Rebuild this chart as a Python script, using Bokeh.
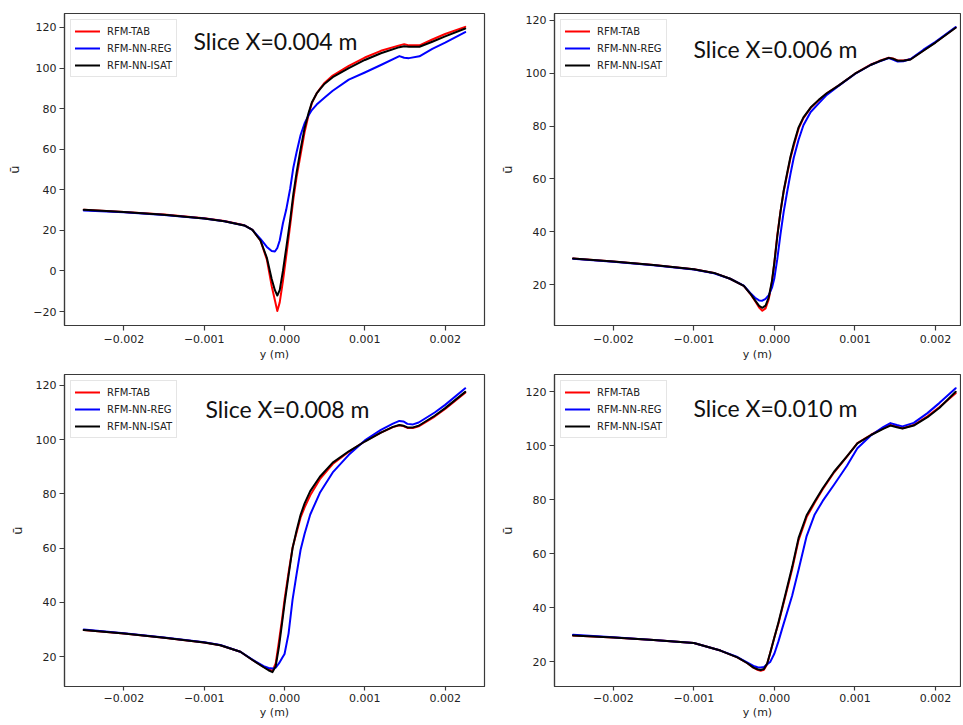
from bokeh.plotting import figure
from bokeh.models import Range1d, FixedTicker, CustomJSTickFormatter, Label
from bokeh.layouts import column, row
from bokeh.embed import file_html
from bokeh.resources import INLINE

SERIES = ["RFM-TAB", "RFM-NN-REG", "RFM-NN-ISAT"]
COLORS = ["#ff0000", "#0000ff", "#000000"]
TITLES = ["Slice X=0.004 m", "Slice X=0.006 m", "Slice X=0.008 m", "Slice X=0.010 m"]
X_TICKS = [-0.002, -0.001, 0.0, 0.001, 0.002]
Y_TICKS_1 = [-20, 0, 20, 40, 60, 80, 100, 120]
Y_TICKS_2 = [20, 40, 60, 80, 100, 120]

# ---- Slice X = 0.004 m ----
y_1 = [-0.0025, -0.002, -0.0015, -0.001, -0.00075, -0.0005, -0.0004, -0.0003, -0.00022, -0.00016,
       -0.00012, -0.00009, -0.00006, -0.00002, 0.00002, 0.00007, 0.00011, 0.00015, 0.0002, 0.00025,
       0.0003, 0.00034, 0.0004, 0.00045, 0.0005, 0.0006, 0.0008, 0.001, 0.0012, 0.00143,
       0.00149, 0.00155, 0.00168, 0.00184, 0.002, 0.00225]
tab_1 = [30.2, 29.1, 27.8, 26.0, 24.6, 22.5, 20.3, 15.0, 5.6, -7.5,
         -14.5, -19.8, -15.5, -5.0, 7.0, 22.5, 35.4, 46.3, 57.4, 68.5,
         77.0, 82.7, 87.5, 90.3, 92.8, 96.3, 101.1, 105.2, 108.5, 111.2,
         111.8, 111.2, 111.2, 114.1, 116.8, 120.3]
reg_1 = [29.8, 28.9, 27.6, 25.9, 24.5, 22.4, 20.2, 15.8, 11.8, 9.8,
         9.6, 11.3, 15.0, 23.5, 30.0, 40.5, 51.0, 58.5, 67.0, 72.8,
         76.8, 79.3, 82.0, 83.8, 85.5, 88.8, 94.3, 97.8, 101.5, 105.9,
         105.1, 104.9, 105.8, 109.5, 112.5, 117.7]
isat_1 = [30.1, 29.0, 27.7, 25.9, 24.5, 22.4, 20.2, 15.0, 6.5, -4.0,
          -9.5, -12.1, -9.5, 0.0, 11.0, 25.0, 38.0, 48.5, 60.0, 70.5,
          78.0, 83.0, 87.5, 90.0, 92.3, 95.5, 100.0, 104.0, 107.3, 110.3,
          110.8, 110.5, 110.5, 113.0, 115.6, 119.5]

# ---- Slice X = 0.006 m ----
y_2 = [-0.0025, -0.002, -0.0015, -0.001, -0.00075, -0.00055, -0.00038, -0.0003, -0.00024, -0.00019,
       -0.00015, -0.00011, -0.00007, -0.00003, 0.0, 0.000035, 0.000075, 0.000115, 0.00016, 0.0002,
       0.00024, 0.0003, 0.00036, 0.00045, 0.00055, 0.00065, 0.0008, 0.001, 0.0012, 0.0013,
       0.00142, 0.00147, 0.00153, 0.0016, 0.00169, 0.00185, 0.002, 0.00225]
tab_2 = [29.9, 28.7, 27.4, 25.8, 24.4, 22.2, 19.5, 16.5, 13.8, 11.3,
         10.1, 11.0, 14.5, 21.0, 28.5, 38.5, 47.5, 55.3, 62.0, 68.0,
         72.5, 79.0, 83.0, 86.9, 89.8, 92.4, 95.4, 99.8, 103.3, 104.6,
         105.9, 105.6, 104.8, 104.8, 105.3, 108.6, 111.7, 117.3]
reg_2 = [29.8, 28.6, 27.3, 25.7, 24.3, 22.2, 19.6, 16.8, 15.0, 14.0,
         13.9, 14.6, 16.0, 18.8, 22.5, 29.5, 39.0, 47.5, 55.4, 62.0,
         68.0, 74.8, 80.3, 85.3, 88.6, 91.8, 95.3, 99.7, 103.2, 104.4,
         105.7, 105.2, 104.4, 104.5, 105.4, 108.9, 111.9, 117.5]
isat_2 = [29.9, 28.7, 27.4, 25.8, 24.4, 22.2, 19.5, 16.6, 14.0, 11.9,
          11.2, 12.0, 15.2, 21.5, 28.5, 38.0, 47.5, 55.5, 62.5, 68.5,
          73.3, 79.5, 83.3, 87.0, 89.9, 92.4, 95.4, 99.8, 103.2, 104.5,
          105.8, 105.5, 104.7, 104.7, 105.2, 108.5, 111.6, 117.2]

# ---- Slice X = 0.008 m ----
y_3 = [-0.0025, -0.002, -0.0015, -0.001, -0.0008, -0.00055, -0.00039, -0.00026, -0.0002, -0.00015,
       -0.00011, -0.00007, -0.00003, 0.0, 0.00005, 0.0001, 0.00015, 0.0002, 0.00025, 0.00032,
       0.00044, 0.0006, 0.0008, 0.001, 0.0012, 0.00135, 0.00143, 0.00148, 0.00153, 0.0016,
       0.00167, 0.00187, 0.002, 0.00225]
tab_3 = [29.8, 28.5, 27.0, 25.2, 24.2, 21.8, 18.6, 16.2, 15.3, 14.8,
         17.5, 25.5, 34.0, 41.0, 51.0, 60.2, 65.8, 71.3, 75.0, 79.5,
         85.4, 91.0, 95.5, 99.4, 102.6, 104.6, 105.3, 105.0, 104.3, 104.3,
         104.9, 108.5, 111.3, 117.3]
reg_3 = [30.0, 28.6, 27.1, 25.3, 24.3, 21.8, 18.7, 16.5, 15.8, 15.6,
         16.0, 17.5, 19.5, 21.0, 28.5, 41.0, 50.4, 59.4, 65.3, 72.4,
         80.4, 87.9, 94.4, 99.7, 103.6, 105.9, 106.9, 106.7, 105.8, 105.6,
         106.3, 110.0, 112.8, 118.9]
isat_3 = [29.8, 28.5, 27.0, 25.2, 24.2, 21.8, 18.6, 16.1, 15.0, 14.3,
          16.5, 23.5, 32.5, 39.5, 50.0, 60.0, 66.5, 72.3, 76.5, 81.0,
          86.3, 91.5, 95.7, 99.3, 102.6, 104.7, 105.4, 105.1, 104.5, 104.5,
          105.1, 108.8, 111.6, 117.6]

# ---- Slice X = 0.010 m ----
y_4 = [-0.0025, -0.002, -0.0015, -0.001, -0.00067, -0.00046, -0.00034, -0.00026, -0.00021, -0.00017,
       -0.00013, -0.00009, -0.00005, 0.0, 0.00005, 0.0001, 0.00015, 0.00022, 0.0003, 0.0004,
       0.0005, 0.0006, 0.00074, 0.0009, 0.00103, 0.0012, 0.00135, 0.00144, 0.00152, 0.00159,
       0.00173, 0.0019, 0.00205, 0.00225]
tab_4 = [29.7, 28.9, 28.0, 26.9, 24.1, 21.6, 19.5, 17.8, 17.0, 16.6,
         17.0, 19.0, 23.5, 29.0, 34.1, 40.0, 45.9, 54.2, 65.0, 73.5,
         78.8, 83.8, 90.0, 95.9, 100.9, 104.0, 106.4, 107.6, 107.0, 106.4,
         107.6, 110.8, 114.3, 119.4]
reg_4 = [30.0, 29.0, 28.0, 26.9, 24.1, 21.7, 19.7, 18.4, 17.9, 17.8,
         18.0, 19.0, 20.0, 23.0, 27.5, 32.6, 37.5, 44.4, 54.0, 66.5,
         74.5, 79.5, 85.5, 92.5, 99.0, 103.8, 106.8, 108.3, 107.6, 107.1,
         108.4, 112.0, 115.8, 121.2]
isat_4 = [29.7, 28.9, 28.0, 26.9, 24.1, 21.6, 19.5, 17.8, 17.2, 16.9,
          17.3, 19.3, 23.5, 29.0, 34.5, 40.5, 46.5, 55.0, 65.8, 74.2,
          79.3, 84.2, 90.3, 96.0, 100.8, 103.9, 106.2, 107.4, 106.8, 106.3,
          107.4, 110.5, 114.0, 119.9]

X_RANGE_LEFT = (-0.00274, 0.00249)
X_RANGE_RIGHT = (-0.00273, 0.00231)
Y_RANGES = [(-26.9, 126.9), (4.5, 122.6), (9.0, 124.0), (10.8, 126.3)]

AX_COLOR = "#3a3a3a"
TXT_COLOR = "#222222"
FONT = "DejaVu Sans"
FRAME_H = 312


def make_panel(xv, series, title, xr, yr, yticks, fw, bl, br, bt, bb,
               tdx, tdy, tick_out, lab_standoff, axlab_standoff):
    fh = FRAME_H
    p = figure(x_range=Range1d(*xr), y_range=Range1d(*yr),
               frame_width=fw, frame_height=fh,
               min_border_left=bl, min_border_right=br,
               min_border_top=bt, min_border_bottom=bb,
               output_backend="svg", toolbar_location=None,
               background_fill_color="white", border_fill_color="white")
    p.xgrid.visible = False
    p.ygrid.visible = False
    p.outline_line_color = AX_COLOR
    p.outline_line_width = 1.2
    for vals, name, col in zip(series, SERIES, COLORS):
        p.line(xv, vals, line_color=col, line_width=2, legend_label=name,
               line_join="round", line_cap="round")
    for ax in (p.xaxis[0], p.yaxis[0]):
        ax.axis_line_color = AX_COLOR
        ax.axis_line_width = 1.2
        ax.major_tick_line_color = AX_COLOR
        ax.major_tick_line_width = 1.2
        ax.major_tick_in = 0
        ax.minor_tick_line_color = None
        ax.major_label_text_font = FONT
        ax.major_label_text_font_size = "11px"
        ax.major_label_text_color = TXT_COLOR
        ax.axis_label_text_font = FONT
        ax.axis_label_text_font_size = "11px"
        ax.axis_label_text_font_style = "normal"
        ax.axis_label_text_color = TXT_COLOR
    p.xaxis.ticker = FixedTicker(ticks=X_TICKS)
    p.xaxis.formatter = CustomJSTickFormatter(code="return tick.toFixed(3).replace('-', '\u2212');")
    p.xaxis.axis_label = "y (m)"
    p.xaxis.major_tick_out = tick_out
    p.xaxis.major_label_standoff = lab_standoff
    p.xaxis.axis_label_standoff = axlab_standoff
    p.yaxis.ticker = FixedTicker(ticks=yticks)
    p.yaxis.formatter = CustomJSTickFormatter(code="return tick.toFixed(0).replace('-', '\u2212');")
    p.yaxis.axis_label = "\u016b"
    p.yaxis.axis_label_text_font_size = "13px"
    p.yaxis.major_tick_out = 5
    p.yaxis.major_label_standoff = 3
    p.yaxis.axis_label_standoff = 8
    p.yaxis.major_label_orientation = "horizontal"

    lg = p.legend[0]
    lg.location = "top_left"
    lg.margin = 6
    lg.padding = 4
    lg.spacing = 3
    lg.glyph_width = 25
    lg.glyph_height = 14
    lg.label_height = 14
    lg.label_standoff = 7
    lg.label_text_font = FONT
    lg.label_text_font_size = "10px"
    lg.label_text_color = TXT_COLOR
    lg.border_line_color = "#cccccc"
    lg.border_line_width = 1
    lg.background_fill_alpha = 0.8

    p.add_layout(Label(x=tdx, y=fh - tdy, x_units="screen", y_units="screen",
                       text=title, text_font="Lato", text_font_size="23px",
                       text_baseline="middle", text_align="left", text_color="#111111"))
    return p


p1 = make_panel(y_1, [tab_1, reg_1, isat_1], TITLES[0], X_RANGE_LEFT, Y_RANGES[0], Y_TICKS_1,
                420, 64, 6, 13, 40, 129, 27, 5, 4, 2)
p2 = make_panel(y_2, [tab_2, reg_2, isat_2], TITLES[1], X_RANGE_RIGHT, Y_RANGES[1], Y_TICKS_2,
                406, 64, 1, 13, 40, 139, 35, 5, 4, 2)
p3 = make_panel(y_3, [tab_3, reg_3, isat_3], TITLES[2], X_RANGE_LEFT, Y_RANGES[2], Y_TICKS_2,
                420, 64, 6, 9, 35, 141, 34, 4, 3, 1)
p4 = make_panel(y_4, [tab_4, reg_4, isat_4], TITLES[3], X_RANGE_RIGHT, Y_RANGES[3], Y_TICKS_2,
                406, 64, 1, 9, 35, 139, 33, 4, 3, 1)

layout = column(row(p1, p2), row(p3, p4))

open("out.html", "w").write(file_html(layout, INLINE))
